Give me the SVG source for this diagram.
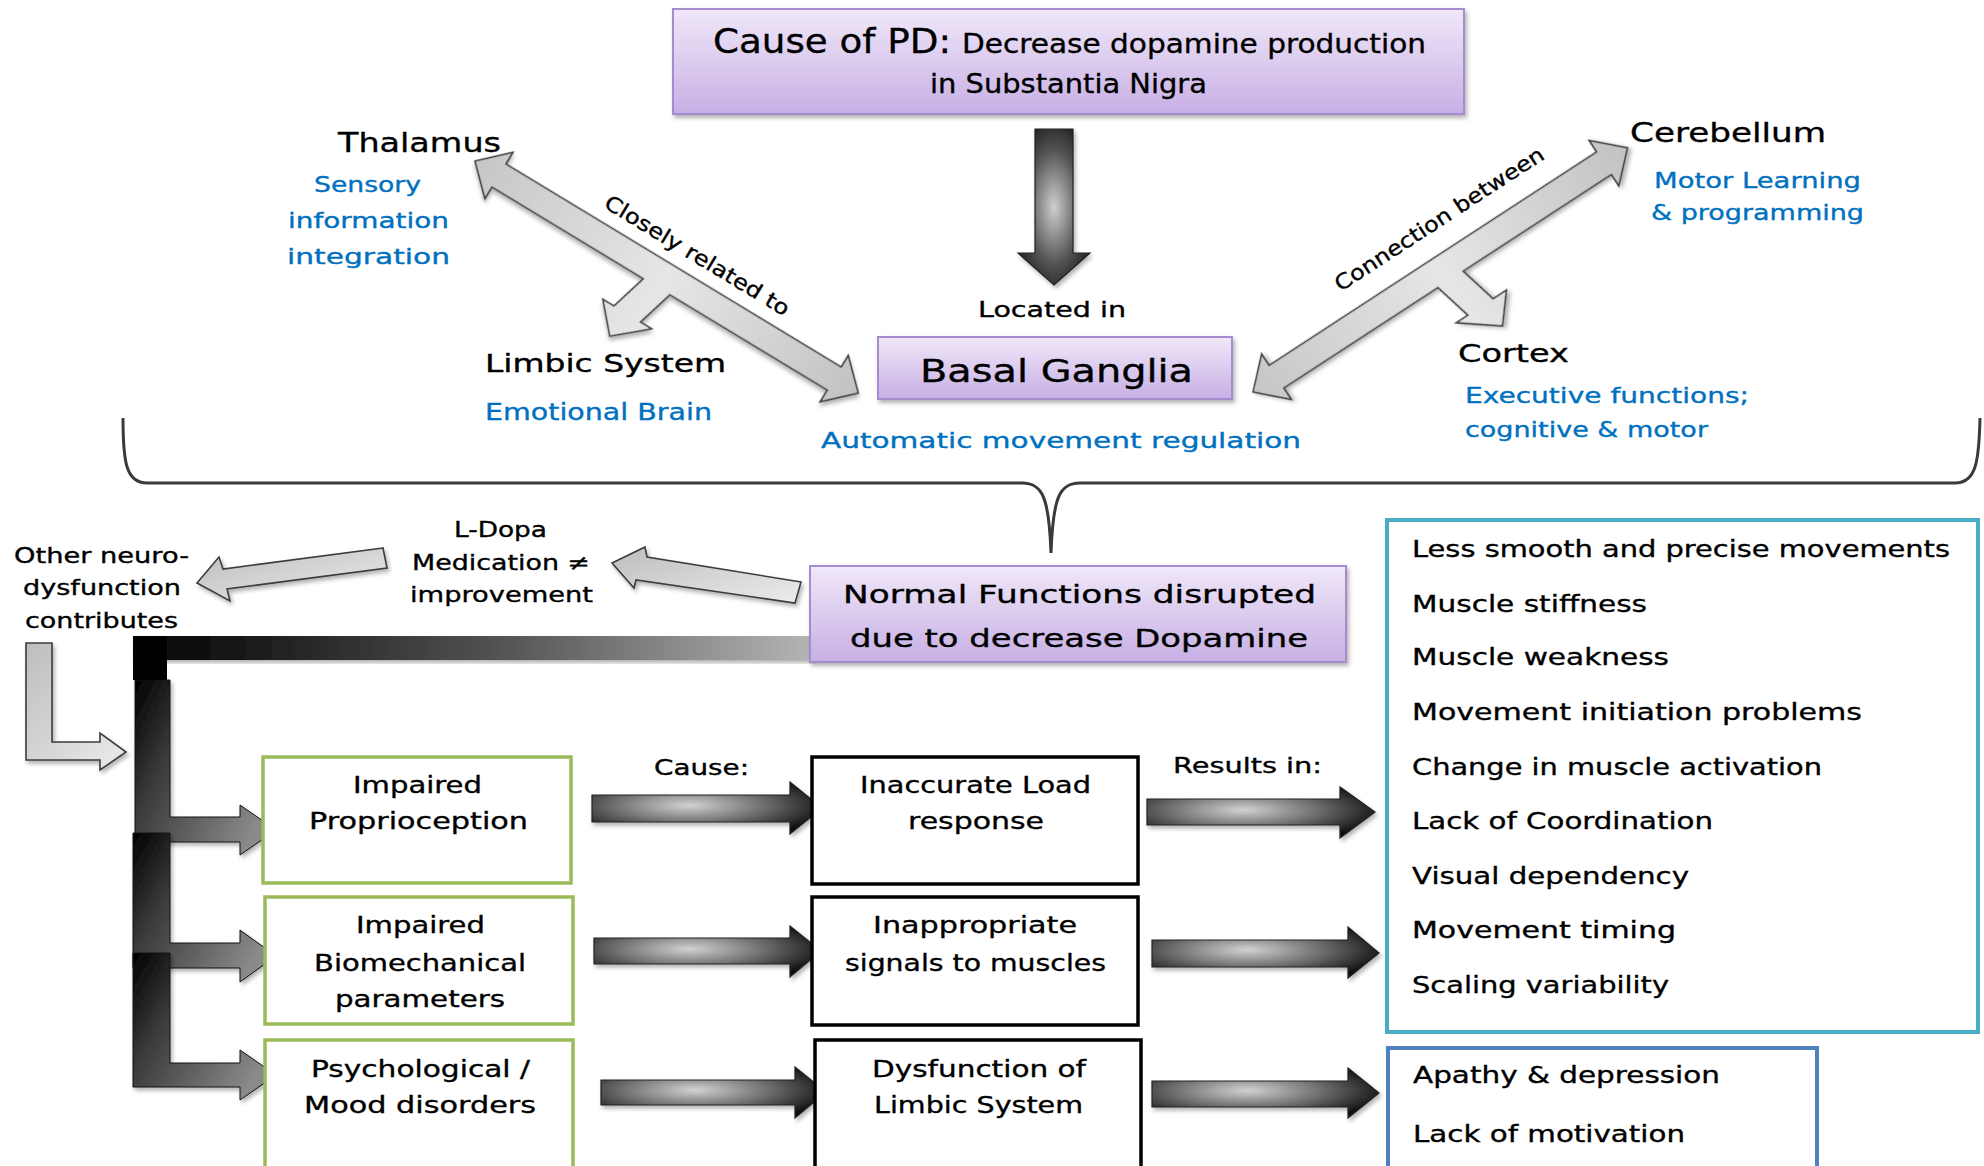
<svg xmlns="http://www.w3.org/2000/svg" width="1984" height="1166" viewBox="0 0 1984 1166">
<defs>
<linearGradient id="purple" x1="0" y1="0" x2="0" y2="1">
<stop offset="0" stop-color="#f0e8f9"/><stop offset="1" stop-color="#c7afe4"/>
</linearGradient>
<linearGradient id="lightGray" x1="0" y1="0" x2="1" y2="0">
<stop offset="0" stop-color="#c6c6c6"/><stop offset="0.5" stop-color="#e6e6e6"/><stop offset="1" stop-color="#c2c2c2"/>
</linearGradient>
<linearGradient id="lightGray2" x1="0" y1="0" x2="1" y2="1">
<stop offset="0" stop-color="#bdbdbd"/><stop offset="1" stop-color="#ececec"/>
</linearGradient>
<radialGradient id="darkArrow" cx="0.42" cy="0.45" r="0.62">
<stop offset="0" stop-color="#d2d2d2"/><stop offset="0.55" stop-color="#6a6a6a"/><stop offset="1" stop-color="#111"/>
</radialGradient>
<radialGradient id="downArrow" cx="0.5" cy="0.5" r="0.6">
<stop offset="0" stop-color="#cfcfcf"/><stop offset="0.6" stop-color="#555"/><stop offset="1" stop-color="#1a1a1a"/>
</radialGradient>
<linearGradient id="bar" x1="0" y1="0" x2="1" y2="0">
<stop offset="0" stop-color="#000"/><stop offset="0.55" stop-color="#555"/><stop offset="1" stop-color="#b5b5b5"/>
</linearGradient>
<linearGradient id="elbow" x1="0" y1="0" x2="1" y2="0.6">
<stop offset="0" stop-color="#000"/><stop offset="0.35" stop-color="#3a3a3a"/><stop offset="1" stop-color="#8a8a8a"/>
</linearGradient>
<filter id="sh" x="-5%" y="-5%" width="110%" height="120%">
<feDropShadow dx="2" dy="3" stdDeviation="2" flood-color="#000" flood-opacity="0.3"/>
</filter>
<style>
.t{font-family:"DejaVu Sans","Liberation Sans",sans-serif;fill:#000;stroke:#000;stroke-width:0.35;}
.bl{fill:#0070c0;stroke:#0070c0;}
.pbox{fill:url(#purple);stroke:#a48ccf;stroke-width:2;}
.gbox{fill:#fff;stroke:#9bbb59;stroke-width:3.5;}
.kbox{fill:#fff;stroke:#000;stroke-width:3.5;}
.larrow{fill:url(#lightGray);stroke:#3c3c3c;stroke-width:1.6;stroke-linejoin:miter;}
.larrow2{fill:url(#lightGray2);stroke:#3c3c3c;stroke-width:1.6;}
.darrow{fill:url(#darkArrow);stroke:#222;stroke-width:1.2;}
.elbow{fill:url(#elbow);stroke:#111;stroke-width:1;}
</style>
</defs>

<g id="connectors">
<path d="M123,418 C123,462 126,483 147,483 L1022,483 C1042,483 1049,496 1051,553 C1053,496 1060,483 1080,483 L1955,483 C1976,483 1979,462 1980,418" fill="none" stroke="#3a3a3a" stroke-width="3"/>
<polygon style="fill:url(#downArrow);stroke:#222;stroke-width:1.2" points="1035,129 1073,129 1073,253 1090,253 1054,285 1018,253 1035,253" filter="url(#sh)"/>
<g transform="translate(475,161) rotate(31.2)">
<polygon class="larrow" filter="url(#sh)" points="0,0 28,-27 28,-13.5 420,-13.5 420,-27 448,0 420,27 420,13.5 236,13.5 225,52 238,52 206,80 181,52 194,52 205,13.5 28,13.5 28,27"/>
<text class="t" x="133" y="-27" font-size="21" textLength="212" lengthAdjust="spacingAndGlyphs">Closely related to</text>
</g>
<g transform="translate(1253,392) rotate(-33.1)">
<polygon class="larrow" filter="url(#sh)" points="0,0 28,-27 28,-13.5 419,-13.5 419,-27 447,0 419,27 419,13.5 242,13.5 252,53 268,53 245,81 208,53 222,53 212,13.5 28,13.5 28,27"/>
<text class="t" x="128" y="-36" font-size="21" textLength="245" lengthAdjust="spacingAndGlyphs">Connection between</text>
</g>
<polygon class="larrow2" filter="url(#sh)" points="801,582 647,557 645,547 612,563 634,588 636,580 795,603"/>
<polygon class="larrow2" filter="url(#sh)" points="383,548 223,569 219,557 197,583 230,601 227,589 387,568"/>
<polygon class="larrow2" filter="url(#sh)" points="26,643 52,643 52,742 100,742 100,733 126,752 100,770 100,760 26,760"/>
<rect x="133" y="636" width="680" height="24" fill="url(#bar)" filter="url(#sh)"/>
<polygon class="elbow" filter="url(#sh)" points="135,680 170,680 170,817 240,817 240,805 276,830 240,855 240,842 135,842"/>
<polygon class="elbow" filter="url(#sh)" points="133,833 170,833 170,943 240,943 240,930 276,956 240,982 240,968 133,968"/>
<polygon class="elbow" filter="url(#sh)" points="133,953 170,953 170,1063 240,1063 240,1050 276,1075 240,1100 240,1087 133,1087"/>
<rect x="133" y="636" width="34" height="44" fill="#000"/>
<polygon class="darrow" filter="url(#sh)" points="592,795 790,795 790,782 822,808 790,834 790,822 592,822"/>
<polygon class="darrow" filter="url(#sh)" points="1147,799 1340,799 1340,787 1375,812 1340,838 1340,825 1147,825"/>
<polygon class="darrow" filter="url(#sh)" points="594,938 790,938 790,926 821,951 790,977 790,964 594,964"/>
<polygon class="darrow" filter="url(#sh)" points="1152,940 1348,940 1348,927 1379,953 1348,978 1348,967 1152,967"/>
<polygon class="darrow" filter="url(#sh)" points="601,1080 795,1080 795,1067 826,1092 795,1118 795,1105 601,1105"/>
<polygon class="darrow" filter="url(#sh)" points="1152,1081 1348,1081 1348,1068 1379,1093 1348,1118 1348,1107 1152,1107"/>
<text class="t" x="978" y="317" font-size="21" textLength="148" lengthAdjust="spacingAndGlyphs">Located in</text>
<text class="t" x="654" y="775" font-size="21" textLength="95" lengthAdjust="spacingAndGlyphs">Cause:</text>
<text class="t" x="1173" y="773" font-size="21" textLength="149" lengthAdjust="spacingAndGlyphs">Results in:</text>
<text class="t" x="454" y="537" font-size="21" textLength="93" lengthAdjust="spacingAndGlyphs">L-Dopa</text>
<text class="t" x="412" y="570" font-size="21" textLength="178" lengthAdjust="spacingAndGlyphs">Medication ≠</text>
<text class="t" x="410" y="602" font-size="21" textLength="183" lengthAdjust="spacingAndGlyphs">improvement</text>
</g>

<g id="cause">
<rect class="pbox" x="673" y="9" width="791" height="105" filter="url(#sh)"/>
<text class="t" x="713" y="53" font-size="34" textLength="238" lengthAdjust="spacingAndGlyphs">Cause of PD:</text>
<text class="t" x="962" y="53" font-size="26" textLength="464" lengthAdjust="spacingAndGlyphs">Decrease dopamine production</text>
<text class="t" x="930" y="93" font-size="26" textLength="277" lengthAdjust="spacingAndGlyphs">in Substantia Nigra</text>
</g>

<g id="basal-ganglia">
<rect class="pbox" x="878" y="337" width="354" height="62" filter="url(#sh)"/>
<text class="t" x="920" y="382" font-size="32" textLength="273" lengthAdjust="spacingAndGlyphs">Basal Ganglia</text>
<text class="t bl" x="821" y="448" font-size="22" textLength="480" lengthAdjust="spacingAndGlyphs">Automatic movement regulation</text>
</g>

<g id="thalamus">
<text class="t" x="338" y="152" font-size="27" textLength="163" lengthAdjust="spacingAndGlyphs">Thalamus</text>
<text class="t bl" x="314" y="192" font-size="22" textLength="107" lengthAdjust="spacingAndGlyphs">Sensory</text>
<text class="t bl" x="288" y="228" font-size="22" textLength="161" lengthAdjust="spacingAndGlyphs">information</text>
<text class="t bl" x="287" y="264" font-size="22" textLength="163" lengthAdjust="spacingAndGlyphs">integration</text>
</g>

<g id="limbic-system">
<text class="t" x="485" y="372" font-size="25" textLength="241" lengthAdjust="spacingAndGlyphs">Limbic System</text>
<text class="t bl" x="485" y="420" font-size="23" textLength="227" lengthAdjust="spacingAndGlyphs">Emotional Brain</text>
</g>

<g id="cerebellum">
<text class="t" x="1630" y="142" font-size="26" textLength="196" lengthAdjust="spacingAndGlyphs">Cerebellum</text>
<text class="t bl" x="1654" y="188" font-size="22" textLength="207" lengthAdjust="spacingAndGlyphs">Motor Learning</text>
<text class="t bl" x="1651" y="220" font-size="22" textLength="213" lengthAdjust="spacingAndGlyphs">&amp; programming</text>
</g>

<g id="cortex">
<text class="t" x="1458" y="362" font-size="25" textLength="111" lengthAdjust="spacingAndGlyphs">Cortex</text>
<text class="t bl" x="1465" y="403" font-size="22" textLength="284" lengthAdjust="spacingAndGlyphs">Executive functions;</text>
<text class="t bl" x="1465" y="437" font-size="22" textLength="243" lengthAdjust="spacingAndGlyphs">cognitive &amp; motor</text>
</g>

<g id="normal-functions">
<rect class="pbox" x="810" y="566" width="536" height="96" filter="url(#sh)"/>
<text class="t" x="843" y="603" font-size="25" textLength="473" lengthAdjust="spacingAndGlyphs">Normal Functions disrupted</text>
<text class="t" x="850" y="647" font-size="25" textLength="458" lengthAdjust="spacingAndGlyphs">due to decrease Dopamine</text>
</g>

<g id="other-neuro">
<text class="t" x="14" y="563" font-size="21" textLength="175" lengthAdjust="spacingAndGlyphs">Other neuro-</text>
<text class="t" x="23" y="595" font-size="21" textLength="158" lengthAdjust="spacingAndGlyphs">dysfunction</text>
<text class="t" x="25" y="628" font-size="21" textLength="153" lengthAdjust="spacingAndGlyphs">contributes</text>
</g>

<g id="impaired-proprioception">
<rect class="gbox" x="263" y="757" width="308" height="126"/>
<text class="t" x="353" y="793" font-size="23" textLength="129" lengthAdjust="spacingAndGlyphs">Impaired</text>
<text class="t" x="309" y="829" font-size="23" textLength="219" lengthAdjust="spacingAndGlyphs">Proprioception</text>
</g>
<g id="impaired-biomechanical">
<rect class="gbox" x="265" y="897" width="308" height="127"/>
<text class="t" x="356" y="933" font-size="23" textLength="129" lengthAdjust="spacingAndGlyphs">Impaired</text>
<text class="t" x="314" y="971" font-size="23" textLength="212" lengthAdjust="spacingAndGlyphs">Biomechanical</text>
<text class="t" x="335" y="1007" font-size="23" textLength="170" lengthAdjust="spacingAndGlyphs">parameters</text>
</g>
<g id="psychological">
<rect class="gbox" x="265" y="1040" width="308" height="140"/>
<text class="t" x="311" y="1077" font-size="23" textLength="219" lengthAdjust="spacingAndGlyphs">Psychological /</text>
<text class="t" x="304" y="1113" font-size="23" textLength="232" lengthAdjust="spacingAndGlyphs">Mood disorders</text>
</g>

<g id="inaccurate-load">
<rect class="kbox" x="812" y="757" width="326" height="127"/>
<text class="t" x="860" y="793" font-size="23" textLength="231" lengthAdjust="spacingAndGlyphs">Inaccurate Load</text>
<text class="t" x="908" y="829" font-size="23" textLength="136" lengthAdjust="spacingAndGlyphs">response</text>
</g>
<g id="inappropriate-signals">
<rect class="kbox" x="812" y="897" width="326" height="128"/>
<text class="t" x="873" y="933" font-size="23" textLength="204" lengthAdjust="spacingAndGlyphs">Inappropriate</text>
<text class="t" x="845" y="971" font-size="23" textLength="261" lengthAdjust="spacingAndGlyphs">signals to muscles</text>
</g>
<g id="limbic-dysfunction">
<rect class="kbox" x="815" y="1040" width="326" height="140"/>
<text class="t" x="872" y="1077" font-size="23" textLength="214" lengthAdjust="spacingAndGlyphs">Dysfunction of</text>
<text class="t" x="874" y="1113" font-size="23" textLength="209" lengthAdjust="spacingAndGlyphs">Limbic System</text>
</g>

<g id="motor-results">
<rect x="1387" y="520" width="591" height="512" fill="#fff" stroke="#4bacc6" stroke-width="4"/>
<text class="t" x="1412" y="557" font-size="23" textLength="538" lengthAdjust="spacingAndGlyphs">Less smooth and precise movements</text>
<text class="t" x="1412" y="612" font-size="23" textLength="235" lengthAdjust="spacingAndGlyphs">Muscle stiffness</text>
<text class="t" x="1412" y="665" font-size="23" textLength="257" lengthAdjust="spacingAndGlyphs">Muscle weakness</text>
<text class="t" x="1412" y="720" font-size="23" textLength="450" lengthAdjust="spacingAndGlyphs">Movement initiation problems</text>
<text class="t" x="1412" y="775" font-size="23" textLength="410" lengthAdjust="spacingAndGlyphs">Change in muscle activation</text>
<text class="t" x="1412" y="829" font-size="23" textLength="301" lengthAdjust="spacingAndGlyphs">Lack of Coordination</text>
<text class="t" x="1412" y="884" font-size="23" textLength="277" lengthAdjust="spacingAndGlyphs">Visual dependency</text>
<text class="t" x="1412" y="938" font-size="23" textLength="264" lengthAdjust="spacingAndGlyphs">Movement timing</text>
<text class="t" x="1412" y="993" font-size="23" textLength="257" lengthAdjust="spacingAndGlyphs">Scaling variability</text>
</g>

<g id="mood-results">
<rect x="1388" y="1048" width="429" height="140" fill="#fff" stroke="#4f81bd" stroke-width="4"/>
<text class="t" x="1413" y="1083" font-size="23" textLength="307" lengthAdjust="spacingAndGlyphs">Apathy &amp; depression</text>
<text class="t" x="1413" y="1142" font-size="23" textLength="272" lengthAdjust="spacingAndGlyphs">Lack of motivation</text>
</g>
</svg>
